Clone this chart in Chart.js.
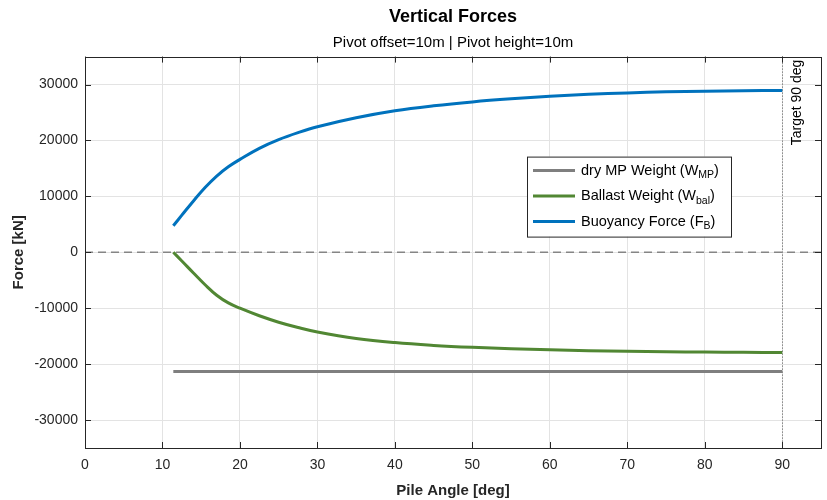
<!DOCTYPE html>
<html>
<head>
<meta charset="utf-8">
<script src="https://cdn.jsdelivr.net/npm/chart.js@4"></script>
<style>
  html, body { margin: 0; padding: 0; background: #fff; }
</style>
</head>
<body>
<canvas id="forceChart" width="827" height="500"></canvas>
<script>
// values
const pileAngle = [11.4, 12.5, 14, 15.5, 17, 18.5, 20, 22.5, 25, 27.5, 30, 35, 40, 45, 50, 55, 60, 65, 70, 75, 80, 85, 90];
const dryMPWeight = [-21300, -21300, -21300, -21300, -21300, -21300, -21300, -21300, -21300, -21300, -21300, -21300,
    -21300, -21300, -21300, -21300, -21300, -21300, -21300, -21300, -21300, -21300, -21300];
const ballastWeight = [0, -1550, -3700, -5800, -7680, -9050, -10000, -11350, -12500, -13450, -14250, -15400,
    -16150, -16650, -17000, -17250, -17450, -17600, -17700, -17780, -17840, -17890, -17930];
const buoyancyForce = [4750, 6640, 9190, 11590, 13640, 15300, 16620, 18600, 20150, 21400, 22450, 24050,
    25300, 26200, 26900, 27450, 27900, 28250, 28500, 28700, 28820, 28900, 28950];

const xTicks = [0, 10, 20, 30, 40, 50, 60, 70, 80, 90];
const yTicks = [-30000, -20000, -10000, 0, 10000, 20000, 30000];
const zeroLine = 0;
const targetAngle = 90;
const targetLabel = 'Target 90 deg';

// legend text: [main, subscript, tail]
const legendLabels = [
    ['dry MP Weight (W', 'MP', ')'],
    ['Ballast Weight (W', 'bal', ')'],
    ['Buoyancy Force (F', 'B', ')'],
];

const FONT = "'Liberation Sans', Arial, Helvetica, sans-serif";
const AXIS_COLOR = '#262626';
const GRID_COLOR = '#e3e3e3';
const colors = ['#7f7f7f', '#518733', '#0072bd'];

const toPoints = (ys) => pileAngle.map((x, i) => ({ x: x, y: ys[i] }));

const refLines = {
    id: 'refLines',
    beforeDatasetsDraw(chart) {
        const { ctx, chartArea, scales } = chart;
        ctx.save();
        // dashed zero line
        const y0 = scales.y.getPixelForValue(zeroLine);
        ctx.strokeStyle = '#858585';
        ctx.lineWidth = 1.5;
        ctx.setLineDash([8, 5]);
        ctx.beginPath();
        ctx.moveTo(chartArea.left, y0);
        ctx.lineTo(chartArea.right, y0);
        ctx.stroke();
        // dotted target line
        const xt = Math.round(scales.x.getPixelForValue(targetAngle)) + 0.5;
        ctx.strokeStyle = '#555';
        ctx.lineWidth = 1;
        ctx.setLineDash([1, 2]);
        ctx.beginPath();
        ctx.moveTo(xt, chartArea.top);
        ctx.lineTo(xt, chartArea.bottom);
        ctx.stroke();
        ctx.restore();
    }
};

const boxAndLabels = {
    id: 'boxAndLabels',
    afterDatasetsDraw(chart) {
        const { ctx, chartArea: a, scales } = chart;
        ctx.save();
        ctx.strokeStyle = AXIS_COLOR;
        ctx.lineWidth = 1;
        ctx.strokeRect(Math.round(a.left) + 0.5, Math.round(a.top) + 0.5,
            Math.round(a.right - a.left), Math.round(a.bottom - a.top));
        // inward ticks on all four sides
        const len = 6;
        ctx.beginPath();
        xTicks.forEach(v => {
            const x = Math.round(scales.x.getPixelForValue(v)) + 0.5;
            ctx.moveTo(x, a.bottom); ctx.lineTo(x, a.bottom - len);
            ctx.moveTo(x, a.top); ctx.lineTo(x, a.top + len);
        });
        yTicks.forEach(v => {
            const y = Math.round(scales.y.getPixelForValue(v)) + 0.5;
            ctx.moveTo(a.left, y); ctx.lineTo(a.left + len, y);
            ctx.moveTo(a.right, y); ctx.lineTo(a.right - len, y);
        });
        ctx.stroke();

        // target label, rotated
        const xt = scales.x.getPixelForValue(targetAngle);
        ctx.translate(xt + 19, a.top + 3);
        ctx.rotate(-Math.PI / 2);
        ctx.fillStyle = '#000';
        ctx.font = '14px ' + FONT;
        ctx.textAlign = 'right';
        ctx.textBaseline = 'alphabetic';
        ctx.fillText(targetLabel, 0, 0);
        ctx.restore();
    }
};

const subLegend = {
    id: 'subLegend',
    afterDraw(chart) {
        const { ctx, chartArea: a } = chart;
        const left = a.left + 442, top = a.top + 100, w = 204, h = 80;
        ctx.save();
        ctx.fillStyle = '#fff';
        ctx.fillRect(left, top, w, h);
        ctx.strokeStyle = AXIS_COLOR;
        ctx.lineWidth = 1;
        ctx.strokeRect(left + 0.5, top + 0.5, w, h);
        legendLabels.forEach((parts, i) => {
            const y = top + 14 + i * 25.5;
            ctx.strokeStyle = colors[i];
            ctx.lineWidth = 3;
            ctx.beginPath();
            ctx.moveTo(left + 6, y);
            ctx.lineTo(left + 48, y);
            ctx.stroke();
            ctx.fillStyle = '#000';
            ctx.textBaseline = 'middle';
            ctx.textAlign = 'left';
            let x = left + 54;
            ctx.font = '14.5px ' + FONT;
            ctx.fillText(parts[0], x, y);
            x += ctx.measureText(parts[0]).width;
            ctx.font = '10.5px ' + FONT;
            ctx.fillText(parts[1], x, y + 5);
            x += ctx.measureText(parts[1]).width;
            ctx.font = '14.5px ' + FONT;
            ctx.fillText(parts[2], x, y);
        });
        ctx.restore();
    }
};

const lineSet = (label, ys, color) => ({
    label: label,
    data: toPoints(ys),
    borderColor: color,
    backgroundColor: color,
    borderWidth: 3,
    pointRadius: 0,
    tension: 0.4,
    fill: false,
});

const ctx = document.getElementById('forceChart').getContext('2d');
new Chart(ctx, {
    type: 'line',
    data: {
        datasets: [
            lineSet('dry MP Weight', dryMPWeight, colors[0]),
            lineSet('Ballast Weight', ballastWeight, colors[1]),
            lineSet('Buoyancy Force', buoyancyForce, colors[2]),
        ]
    },
    options: {
        responsive: false,
        animation: false,
        layout: { padding: { left: 10, right: 6, top: 0, bottom: 0 } },
        plugins: {
            legend: { display: false },
            tooltip: { enabled: false },
            title: {
                display: true,
                text: 'Vertical Forces',
                fullSize: false,
                color: '#000',
                font: { family: FONT, size: 18, weight: 'bold' },
                padding: { top: 6, bottom: 6 },
            },
            subtitle: {
                display: true,
                text: 'Pivot offset=10m | Pivot height=10m',
                fullSize: false,
                color: '#000',
                font: { family: FONT, size: 15 },
                padding: { top: 0, bottom: 5 },
            },
        },
        scales: {
            x: {
                type: 'linear',
                min: 0,
                max: 95,
                afterBuildTicks: (axis) => { axis.ticks = xTicks.map(v => ({ value: v })); },
                afterFit: (scale) => { scale.height = 52; },
                grid: { color: GRID_COLOR, drawTicks: false },
                border: { display: false },
                ticks: {
                    color: AXIS_COLOR, padding: 9, font: { family: FONT, size: 14 },
                    callback: (v) => String(v),
                },
                title: {
                    display: true,
                    text: 'Pile Angle [deg]',
                    color: AXIS_COLOR,
                    font: { family: FONT, size: 15, weight: 'bold' },
                    padding: 0,
                },
            },
            y: {
                min: -35000,
                max: 35000,
                afterBuildTicks: (axis) => { axis.ticks = yTicks.map(v => ({ value: v })); },
                afterFit: (scale) => { scale.width = 75; },
                grid: { color: GRID_COLOR, drawTicks: false },
                border: { display: false },
                ticks: {
                    color: AXIS_COLOR, padding: 7, font: { family: FONT, size: 14 },
                    callback: (v) => String(v),
                },
                title: {
                    display: true,
                    text: 'Force [kN]',
                    color: AXIS_COLOR,
                    font: { family: FONT, size: 15, weight: 'bold' },
                    padding: 0,
                },
            },
        },
    },
    plugins: [refLines, boxAndLabels, subLegend],
});
</script>
</body>
</html>
